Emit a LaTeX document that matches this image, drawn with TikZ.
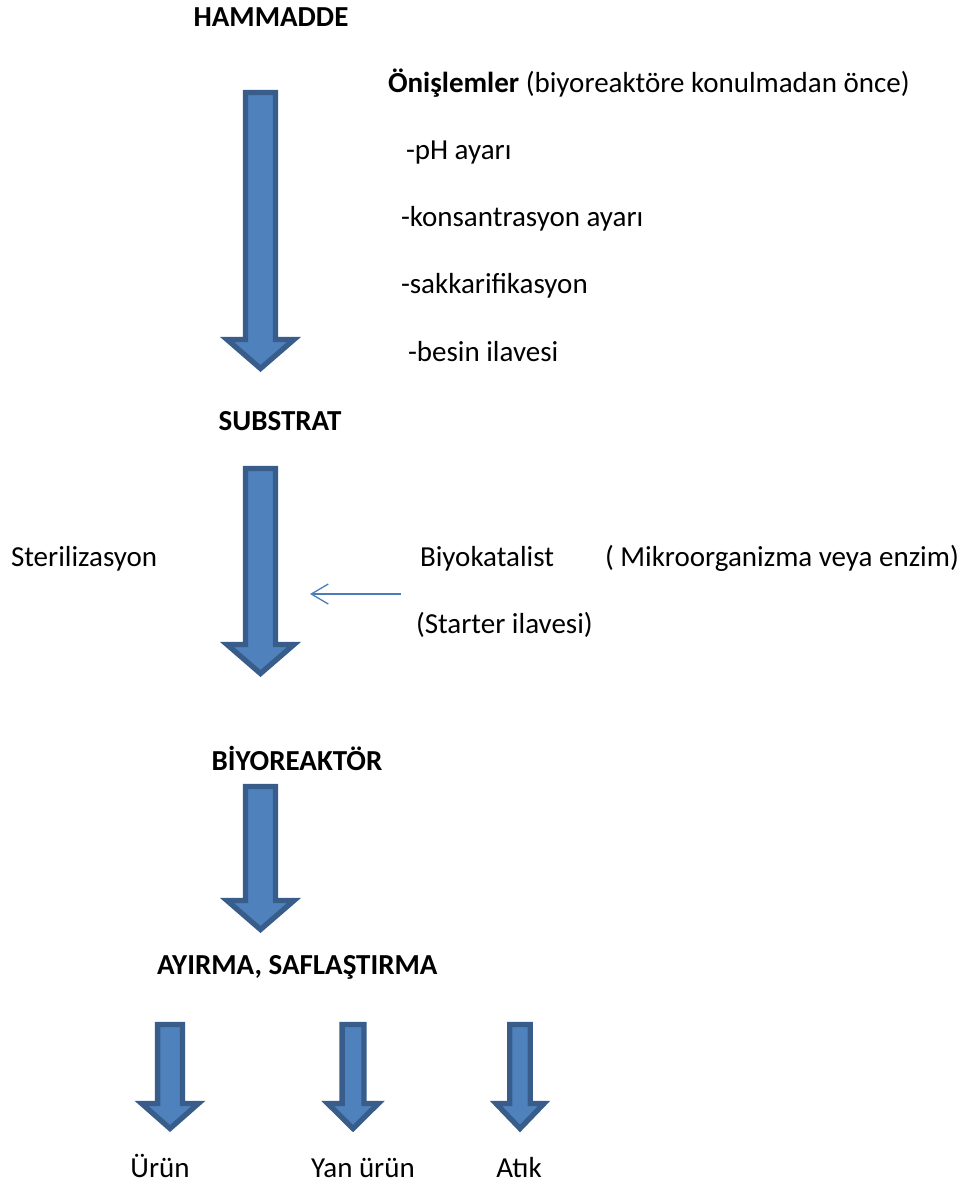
\documentclass[tikz,border=0pt]{standalone}
\usepackage{fontspec}
\setmainfont{Carlito}
\usetikzlibrary{arrows.meta}
\definecolor{arrfill}{HTML}{4F81BD}
\definecolor{arrline}{HTML}{385D8A}
\definecolor{thinblue}{HTML}{4A7EBB}
\newcommand\blockarrow[7]{%
  % #1 name, #2 center x, #3 top y, #4 head y, #5 tip y, #6 shaft half width, #7 head half width
  \draw[blockarrowstyle] (#2-#6,#3) -- (#2+#6,#3) -- (#2+#6,#4) -- (#2+#7,#4)
    -- (#2,#5) -- (#2-#7,#4) -- (#2-#6,#4) -- cycle;
  \coordinate (#1) at (#2,#3);}
\begin{document}
\begin{tikzpicture}[x=1pt,y=-1pt,
  blockarrowstyle/.style={fill=arrfill,draw=arrline,line width=5.3pt,line join=miter},
  lbl/.style={inner sep=0pt,outer sep=0pt,font=\fontsize{29}{35}\selectfont},
  bold/.style={lbl,font=\fontsize{29}{35}\selectfont\bfseries},
  thinarrow/.style={draw=thinblue,line width=1.3pt,-{Straight Barb[length=17pt,width=20pt]}}]
\useasboundingbox (0,0) rectangle (965,1186);
\fill[white] (0,0) rectangle (965,1186);

% titles
\node[bold,anchor=base] (ham) at (271,26) {HAMMADDE};
\node[bold,anchor=base] (sub) at (280,430) {SUBSTRAT};
\node[bold,anchor=base] (bio) at (297,770) {BİYOREAKTÖR};
\node[bold,anchor=base west] (ayr) at (157,974) {AYIRMA, SAFLAŞTIRMA};

% pre-treatments
\node[lbl,anchor=base west] (onis) at (388,92) {\textbf{Önişlemler} (biyoreaktöre konulmadan önce)};
\node[lbl,anchor=base west] (ph) at (406,159) {-pH ayarı};
\node[lbl,anchor=base west] (kons) at (401,226) {-konsantrasyon ayarı};
\node[lbl,anchor=base west] (sakk) at (401,293) {-sakkarifikasyon};
\node[lbl,anchor=base west] (besin) at (408,361) {-besin ilavesi};

% middle row
\node[lbl,anchor=base west] (ster) at (11,566) {Sterilizasyon};
\node[lbl,anchor=base west] (biyok) at (420,566) {Biyokatalist};
\node[lbl,anchor=base west] (mikro) at (605,566) {( Mikroorganizma veya enzim)};
\node[lbl,anchor=base west] (start) at (416,633) {(Starter ilavesi)};

% bottom labels
\node[lbl,anchor=base] (urun) at (160,1177) {Ürün};
\node[lbl,anchor=base] (yan) at (363,1177) {Yan ürün};
\node[lbl,anchor=base] (atik) at (519,1177) {Atık};

% block arrows
\blockarrow{a1}{260.5}{92.5}{339.5}{368.5}{15}{33.5}
\blockarrow{a2}{260.5}{468.5}{644.5}{673.5}{15}{33.5}
\blockarrow{a3}{260.5}{786.5}{900.5}{929.5}{15}{33.5}
\blockarrow{s1}{170}{1024.5}{1103.5}{1128.5}{12.4}{28.4}
\blockarrow{s2}{353}{1024.5}{1103.5}{1128.5}{10.9}{25.3}
\blockarrow{s3}{520}{1024.5}{1103.5}{1128.5}{10.3}{24}

% thin arrow
\coordinate (tstart) at (401,594);
\coordinate (tend) at (310,594);
\draw[thinarrow] (tstart) -- (tend);
\end{tikzpicture}
\end{document}
